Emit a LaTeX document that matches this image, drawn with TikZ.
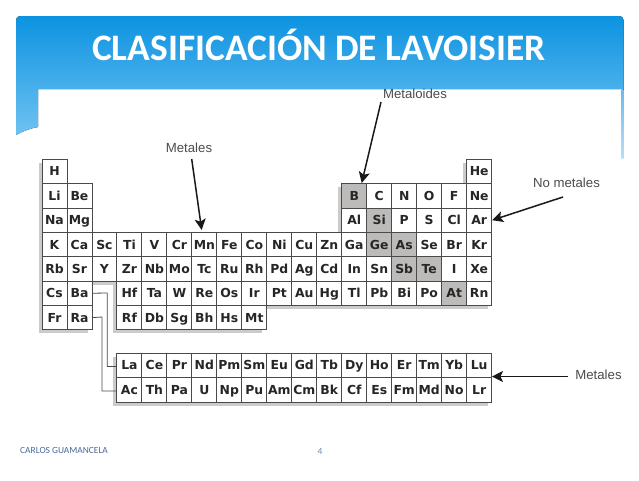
\documentclass[tikz,border=0pt]{standalone}
\usepackage{fontspec}
\setmainfont{Liberation Sans}
\newfontfamily\cellfont{DejaVu Sans}
\newfontfamily\titlefont{Carlito}
\usetikzlibrary{arrows.meta}
\definecolor{bannertop}{HTML}{0C93E0}
\definecolor{ribbonbot}{HTML}{70C2F2}
\definecolor{stripa}{HTML}{6FB8EE}
\definecolor{stripb}{HTML}{B8DEF8}
\definecolor{metgray}{HTML}{BDBBBA}
\definecolor{shadowgray}{HTML}{CBCBCB}
\definecolor{cellline}{HTML}{4A4A4A}
\definecolor{footblue}{HTML}{4A6A9C}
\tikzset{
 cell/.style={draw=cellline,line width=0.9pt,fill=white,minimum width=25pt,minimum height=24.4pt,inner sep=0pt,anchor=center,
   text height=9pt,text depth=0pt,
   font=\cellfont\bfseries\fontsize{12.4}{12.4}\selectfont,text=black!85},
 metcell/.style={cell,fill=metgray},
 lbl/.style={font=\fontsize{13.2}{14}\selectfont,text=black!70,inner sep=0pt},
 pointer/.style={line width=1.5pt,draw=black!90,-{Stealth[length=11pt,width=11pt,inset=2.5pt]}},
 link/.style={draw=cellline,line width=0.8pt},
}
\begin{document}
\begin{tikzpicture}[x=1pt,y=-1pt]
\useasboundingbox (0,0) rectangle (639,480);
\fill[white] (0,0) rectangle (639,480);
% banner and ribbon as one shape
\fill[top color=bannertop,bottom color=ribbonbot] (16,135) {[rounded corners=4pt] -- (16,16) -- (623.5,16) -- (623.5,40)} -- (623.5,89) -- (38,89) -- (38,127) .. controls (30,128.5) and (23,131) .. (16,135) -- cycle;
\fill[top color=stripa,bottom color=stripb] (621.7,89) rectangle (623.5,158);
\node[font=\titlefont\bfseries\fontsize{37.4}{40}\selectfont,text=white,inner sep=0pt] (title) at (319,45) {CLASIFICACIÓN DE LAVOISIER};
% shadows
\fill[shadowgray] (39,163) rectangle (63,333);
\fill[shadowgray] (63,187) rectangle (88,333);
\fill[shadowgray] (88,236) rectangle (113,285);
\fill[shadowgray] (113,236) rectangle (262,333);
\fill[shadowgray] (262,236) rectangle (338,309);
\fill[shadowgray] (338,187) rectangle (488,309);
\fill[shadowgray] (463,163) rectangle (488,187);
\fill[shadowgray] (113,357) rectangle (488,406);
% link bends
\coordinate (bend1) at (107.3,293);
\coordinate (bend1b) at (107.3,366.5);
\coordinate (bend2) at (102,317);
\coordinate (bend2b) at (102,391);
% cells
\def\rowH{24.35}
\foreach \n/\c/\r/\s in {
H/1/0/cell,He/18/0/cell,
Li/1/1/cell,Be/2/1/cell,B/13/1/metcell,C/14/1/cell,N/15/1/cell,O/16/1/cell,F/17/1/cell,Ne/18/1/cell,
Na/1/2/cell,Mg/2/2/cell,Al/13/2/cell,Si/14/2/metcell,P/15/2/cell,S/16/2/cell,Cl/17/2/cell,Ar/18/2/cell,
K/1/3/cell,Ca/2/3/cell,Sc/3/3/cell,Ti/4/3/cell,V/5/3/cell,Cr/6/3/cell,Mn/7/3/cell,Fe/8/3/cell,Co/9/3/cell,Ni/10/3/cell,Cu/11/3/cell,Zn/12/3/cell,Ga/13/3/cell,Ge/14/3/metcell,As/15/3/metcell,Se/16/3/cell,Br/17/3/cell,Kr/18/3/cell,
Rb/1/4/cell,Sr/2/4/cell,Y/3/4/cell,Zr/4/4/cell,Nb/5/4/cell,Mo/6/4/cell,Tc/7/4/cell,Ru/8/4/cell,Rh/9/4/cell,Pd/10/4/cell,Ag/11/4/cell,Cd/12/4/cell,In/13/4/cell,Sn/14/4/cell,Sb/15/4/metcell,Te/16/4/metcell,I/17/4/cell,Xe/18/4/cell,
Cs/1/5/cell,Ba/2/5/cell,Hf/4/5/cell,Ta/5/5/cell,W/6/5/cell,Re/7/5/cell,Os/8/5/cell,Ir/9/5/cell,Pt/10/5/cell,Au/11/5/cell,Hg/12/5/cell,Tl/13/5/cell,Pb/14/5/cell,Bi/15/5/cell,Po/16/5/cell,At/17/5/metcell,Rn/18/5/cell,
Fr/1/6/cell,Ra/2/6/cell,Rf/4/6/cell,Db/5/6/cell,Sg/6/6/cell,Bh/7/6/cell,Hs/8/6/cell,Mt/9/6/cell}
{ \node[\s] (el\n) at ({42+(\c-0.5)*24.98},{159.3+(\r+0.5)*\rowH}) {\n}; }
\foreach \n/\c/\r in {
La/4/0,Ce/5/0,Pr/6/0,Nd/7/0,Pm/8/0,Sm/9/0,Eu/10/0,Gd/11/0,Tb/12/0,Dy/13/0,Ho/14/0,Er/15/0,Tm/16/0,Yb/17/0,Lu/18/0,
Ac/4/1,Th/5/1,Pa/6/1,U/7/1,Np/8/1,Pu/9/1,Am/10/1,Cm/11/1,Bk/12/1,Cf/13/1,Es/14/1,Fm/15/1,Md/16/1,No/17/1,Lr/18/1}
{ \node[cell] (el\n) at ({42+(\c-0.5)*24.98},{353.3+(\r+0.5)*\rowH}) {\n}; }
\draw[link] (elBa.east) -- (bend1) -- (bend1b) -- (bend1b -| elLa.west);
\draw[link] (elRa.east) -- (bend2) -- (bend2b) -- (bend2b -| elAc.west);
% labels
\node[lbl] (lmetaloides) at (415,93.5) {Metaloides};
\node[lbl] (lmetales) at (189,148) {Metales};
\node[lbl] (lnometales) at (566.5,183) {No metales};
\node[lbl] (lmetales2) at (598.5,374.5) {Metales};
\coordinate (a1) at (381,102);
\coordinate (t1) at (361.7,183);
\coordinate (a2) at (191.7,159);
\coordinate (t2) at (201.7,230);
\coordinate (a3) at (563,197);
\coordinate (a4) at (568,376.5);
\coordinate (t4) at (492,376.5);
\draw[pointer] (a1) -- (t1);
\draw[pointer] (a2) -- (t2);
\draw[pointer] (a3) -- (elAr.east);
\draw[pointer] (a4) -- (t4);
% footer
\node[font=\titlefont\fontsize{9.4}{10}\selectfont,text=footblue,anchor=west,inner sep=0pt] (foot) at (20,450) {CARLOS GUAMANCELA};
\node[font=\titlefont\fontsize{9.5}{10}\selectfont,text=footblue!80,inner sep=0pt] (page) at (320,451) {4};
\end{tikzpicture}
\end{document}
